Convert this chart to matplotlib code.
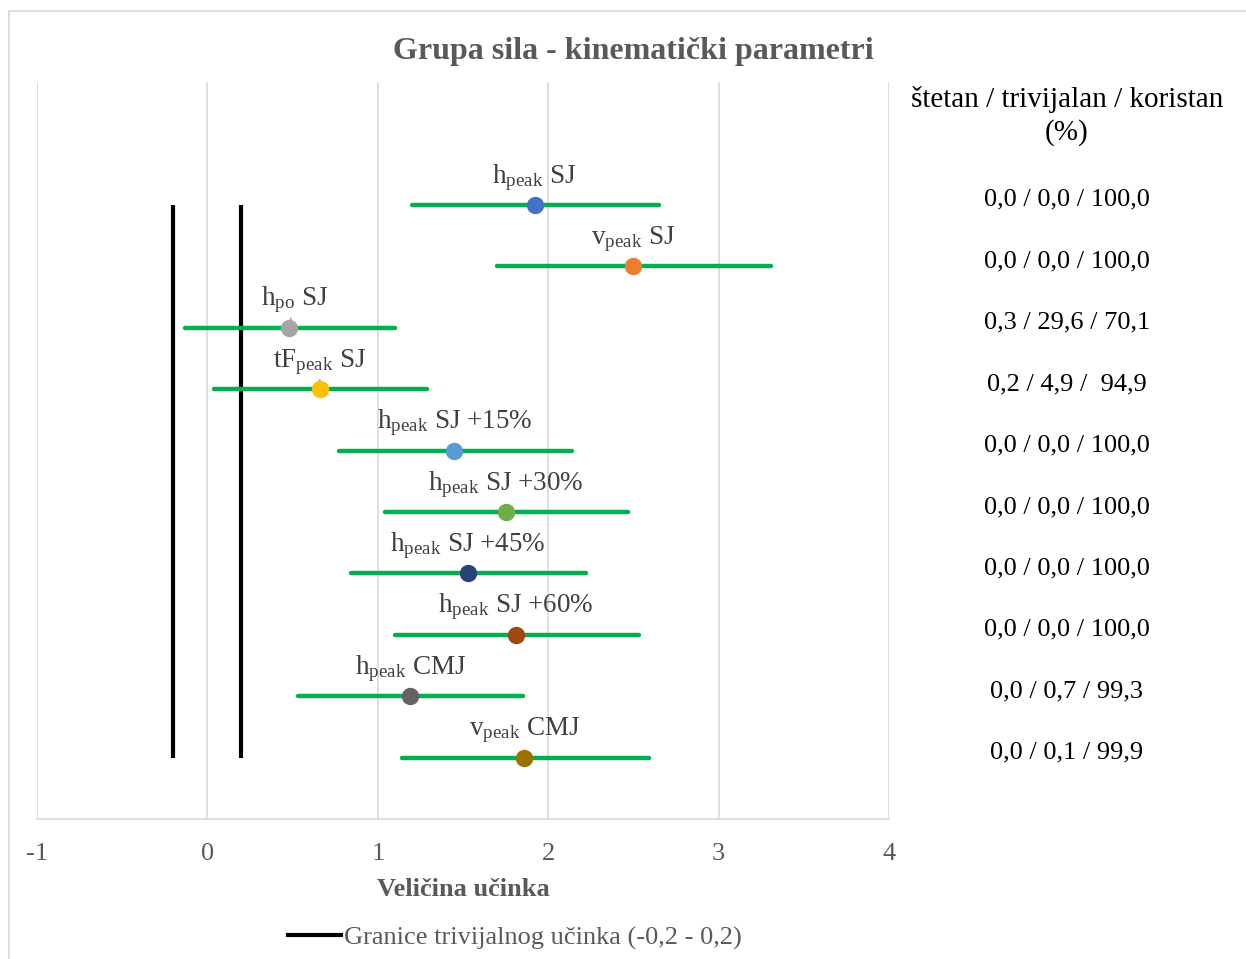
import matplotlib
matplotlib.use('Agg')
import matplotlib.pyplot as plt
from matplotlib.lines import Line2D
import matplotlib.transforms as mtransforms

plt.rcParams['font.family'] = ['Liberation Serif', 'DejaVu Serif']
plt.rcParams['mathtext.fontset'] = 'custom'
plt.rcParams['mathtext.rm'] = 'Liberation Serif'
plt.rcParams['mathtext.it'] = 'Liberation Serif:italic'

# podaci
labels = [r'$\mathrm{h_{peak}}$ SJ', r'$\mathrm{v_{peak}}$ SJ', r'$\mathrm{h_{po}}$ SJ',
          r'$\mathrm{tF_{peak}}$ SJ', r'$\mathrm{h_{peak}}$ SJ +15%', r'$\mathrm{h_{peak}}$ SJ +30%',
          r'$\mathrm{h_{peak}}$ SJ +45%', r'$\mathrm{h_{peak}}$ SJ +60%', r'$\mathrm{h_{peak}}$ CMJ',
          r'$\mathrm{v_{peak}}$ CMJ']
effect = [1.92, 2.50, 0.48, 0.66, 1.45, 1.75, 1.53, 1.81, 1.19, 1.86]
ci_low = [1.20, 1.70, -0.13, 0.04, 0.77, 1.04, 0.84, 1.10, 0.53, 1.14]
ci_high = [2.65, 3.31, 1.10, 1.29, 2.14, 2.47, 2.22, 2.53, 1.85, 2.59]
chances = ['0,0 / 0,0 / 100,0', '0,0 / 0,0 / 100,0', '0,3 / 29,6 / 70,1', '0,2 / 4,9 /  94,9',
           '0,0 / 0,0 / 100,0', '0,0 / 0,0 / 100,0', '0,0 / 0,0 / 100,0', '0,0 / 0,0 / 100,0',
           '0,0 / 0,7 / 99,3', '0,0 / 0,1 / 99,9']
rows = [10, 9, 8, 7, 6, 5, 4, 3, 2, 1]
trivial = [-0.2, 0.2]
xticks = [-1, 0, 1, 2, 3, 4]

colors = ['#4472C4', '#ED7D31', '#A5A5A5', '#FFC000', '#5B9BD5',
          '#70AD47', '#264478', '#9E480E', '#636363', '#997300']
leader = [False, False, True, True, False, False, False, False, False, False]
label_dx = [0, 0, 5, 0, 0, 0, 0, 0, 0, 0]

fig = plt.figure(figsize=(12.46, 9.59), dpi=100)
ax = fig.add_axes([37 / 1246, 1 - 819 / 959, (889 - 37) / 1246, (819 - 82) / 959])

for t in trivial:
    ax.plot([t, t], [min(rows), max(rows)], color='black', lw=3, solid_capstyle='butt', zorder=2)

for i in range(len(rows)):
    ax.plot([ci_low[i], ci_high[i]], [rows[i], rows[i]], color='#00B050', lw=3.2,
            solid_capstyle='round', zorder=3)
    ax.plot(effect[i], rows[i], 'o', color=colors[i], markersize=11.5, zorder=5)
    if leader[i]:
        ax.annotate(labels[i], xy=(effect[i], rows[i]), xytext=(label_dx[i] * 0.72, 16),
                    textcoords='offset points', ha='center', va='baseline', fontsize=19.5,
                    color='#404040', zorder=4,
                    arrowprops=dict(arrowstyle='-', color='#A5A5A5', lw=1.2, shrinkA=0, shrinkB=0))
    else:
        ax.annotate(labels[i], xy=(effect[i], rows[i]), xytext=(label_dx[i] * 0.72, 16),
                    textcoords='offset points', ha='center', va='baseline', fontsize=19.5,
                    color='#404040', zorder=4)

ax.set_xlim(-1, 4)
ax.set_ylim(0, 12)
ax.set_xticks(xticks)
ax.set_xticklabels([str(v) for v in xticks], fontsize=19, color='#595959')
ax.tick_params(axis='x', length=0, pad=17)
ax.set_yticks([])
ax.grid(axis='x', color='#D9D9D9', lw=1.2)
ax.set_axisbelow(True)
for s in ['top', 'right', 'left']:
    ax.spines[s].set_visible(False)
ax.spines['bottom'].set_color('#D9D9D9')
ax.spines['bottom'].set_linewidth(1.2)

# desni stupac
trans = mtransforms.blended_transform_factory(fig.transFigure, ax.transData)
for i in range(len(rows)):
    ax.text(1067 / 1246, rows[i] + 0.08, chances[i], transform=trans, ha='center', va='center',
            fontsize=19, color='black', clip_on=False)
fig.text(1067 / 1246, 1 - 116 / 959, 'štetan / trivijalan / koristan\n(%)', ha='center',
         va='center', fontsize=21, color='black', linespacing=1.3)

fig.text(633 / 1246, 1 - 51 / 959, 'Grupa sila - kinematički parametri', ha='center',
         va='center', fontsize=23, fontweight='bold', color='#595959')
fig.text(463 / 1246, 1 - 890 / 959, 'Veličina učinka', ha='center', va='center',
         fontsize=19, fontweight='bold', color='#595959')

handle = Line2D([], [], color='black', lw=3)
leg = fig.legend([handle], ['Granice trivijalnog učinka (-0,2 - 0,2)'], loc='center',
                 bbox_to_anchor=(515 / 1246, 1 - 938 / 959), frameon=False, fontsize=19,
                 handlelength=2.0, handletextpad=0.15)
for txt in leg.get_texts():
    txt.set_color('#595959')

# okvir grafikona
fig.add_artist(Line2D([9 / 1246, 9 / 1246], [0, 1 - 11 / 959], transform=fig.transFigure,
                      color='#D9D9D9', lw=1.2))
fig.add_artist(Line2D([9 / 1246, 1], [1 - 11 / 959, 1 - 11 / 959], transform=fig.transFigure,
                      color='#D9D9D9', lw=1.2))

fig.savefig('out.png', dpi=100)
